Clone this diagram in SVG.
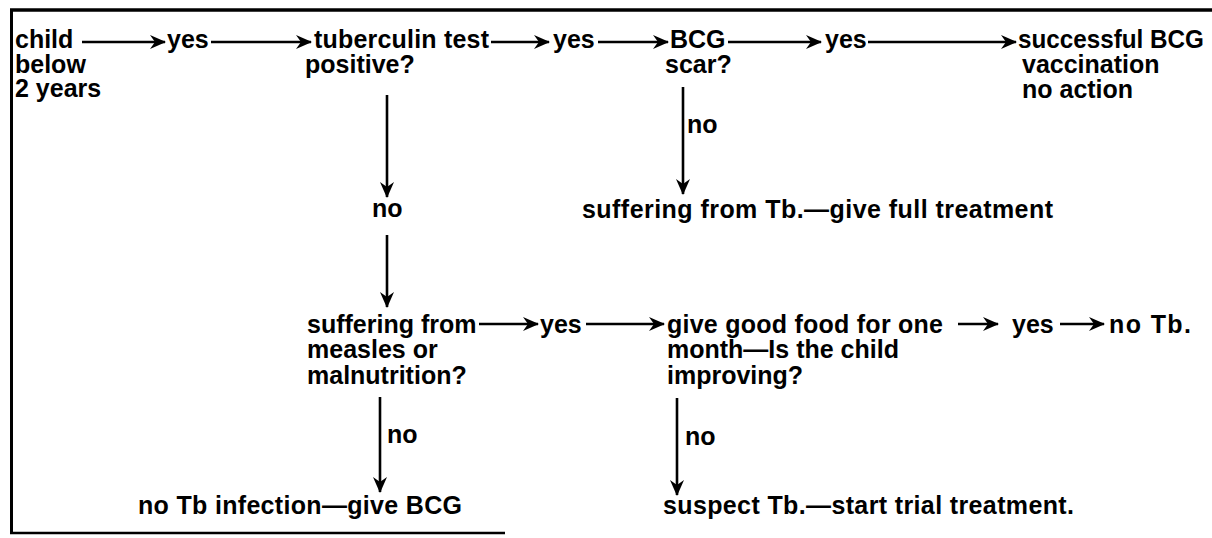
<svg xmlns="http://www.w3.org/2000/svg" width="1212" height="538" viewBox="0 0 1212 538">
<style>
text{font-family:"Liberation Sans",Arial,sans-serif;font-weight:bold;font-size:25px;fill:#000}
.c{stroke:#000;stroke-width:2.6;fill:none;marker-end:url(#ah)}
.f{stroke:#000;fill:none}
</style>
<defs>
<marker id="ah" markerUnits="userSpaceOnUse" markerWidth="16" markerHeight="16" viewBox="0 0 16 16" refX="15" refY="8" orient="auto">
<path d="M0,1 L16,8 L0,15 L5,8 z" fill="#000"/>
</marker>
</defs>
<rect width="1212" height="538" fill="#fff"/>
<g id="frame">
<line class="f" x1="10" y1="10" x2="1212" y2="10" stroke-width="3.5"/>
<line class="f" x1="11.5" y1="9" x2="11.5" y2="534" stroke-width="3"/>
<line class="f" x1="10" y1="533" x2="505" y2="533" stroke-width="2.5"/>
</g>
<g id="connectors">
<line class="c" x1="82" y1="42" x2="165" y2="42"/>
<line class="c" x1="211" y1="42" x2="311" y2="42"/>
<line class="c" x1="491" y1="42" x2="549" y2="42"/>
<line class="c" x1="598" y1="42" x2="668" y2="42"/>
<line class="c" x1="728" y1="42" x2="821" y2="42"/>
<line class="c" x1="868" y1="42" x2="1016" y2="42"/>
<line class="c" x1="387" y1="95" x2="387" y2="197"/>
<line class="c" x1="387" y1="235" x2="387" y2="307"/>
<line class="c" x1="683" y1="87" x2="683" y2="194"/>
<line class="c" x1="479" y1="324" x2="538" y2="324"/>
<line class="c" x1="586" y1="324" x2="664" y2="324"/>
<line class="c" x1="958" y1="324" x2="998" y2="324"/>
<line class="c" x1="1060" y1="324" x2="1104" y2="324"/>
<line class="c" x1="380" y1="397" x2="380" y2="492"/>
<line class="c" x1="677" y1="398" x2="677" y2="495"/>
</g>
<g id="n-child"><text x="15" y="48">child<tspan x="15" y="73">below</tspan><tspan x="15" y="97">2 years</tspan></text></g>
<g id="n-yes1"><text x="167" y="48">yes</text></g>
<g id="n-tuberculin"><text x="314" y="48" textLength="175" lengthAdjust="spacing">tuberculin test</text><text x="305" y="73">positive?</text></g>
<g id="n-yes2"><text x="553" y="48">yes</text></g>
<g id="n-bcg"><text x="670" y="48">BCG<tspan x="665" y="73">scar?</tspan></text></g>
<g id="n-yes3"><text x="825" y="48">yes</text></g>
<g id="n-success"><text x="1018" y="48" textLength="186" lengthAdjust="spacingAndGlyphs">successful BCG</text><text x="1022" y="73">vaccination<tspan x="1022" y="98">no action</tspan></text></g>
<g id="n-no-scar"><text x="687" y="133">no</text></g>
<g id="n-suffering-tb"><text x="582" y="218" textLength="471" lengthAdjust="spacing">suffering from Tb.—give full treatment</text></g>
<g id="n-no1"><text x="372" y="217">no</text></g>
<g id="n-measles"><text x="307" y="333">suffering from<tspan x="307" y="358">measles or</tspan><tspan x="307" y="384">malnutrition?</tspan></text></g>
<g id="n-yes4"><text x="540" y="333">yes</text></g>
<g id="n-food"><text x="667" y="333" textLength="276" lengthAdjust="spacing">give good food for one</text><text x="667" y="358">month—Is the child<tspan x="667" y="384">improving?</tspan></text></g>
<g id="n-yes5"><text x="1012" y="333">yes</text></g>
<g id="n-notb"><text x="1109" y="333" textLength="82" lengthAdjust="spacing">no Tb.</text></g>
<g id="n-no2"><text x="387" y="443">no</text></g>
<g id="n-no3"><text x="685" y="445">no</text></g>
<g id="n-bcg-give"><text x="138" y="514" textLength="324" lengthAdjust="spacing">no Tb infection—give BCG</text></g>
<g id="n-trial"><text x="663" y="514" textLength="411" lengthAdjust="spacing">suspect Tb.—start trial treatment.</text></g>
</svg>
